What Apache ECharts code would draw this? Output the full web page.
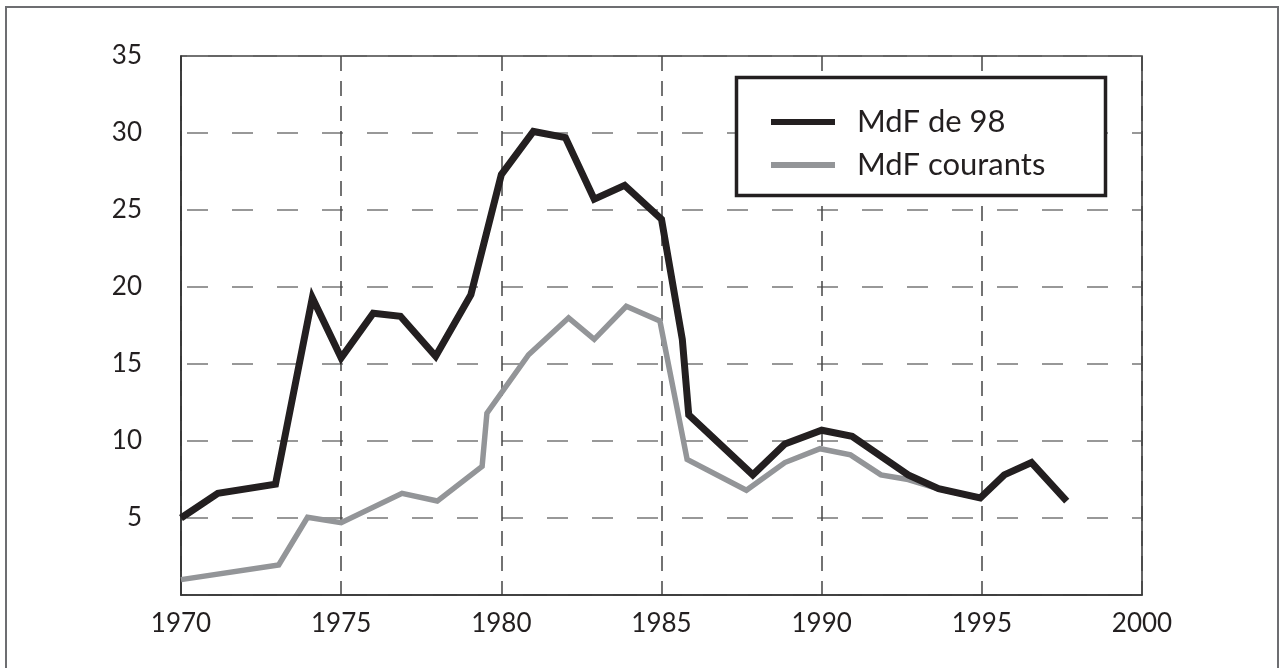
<!DOCTYPE html>
<html>
<head>
<meta charset="utf-8">
<script src="https://cdn.jsdelivr.net/npm/echarts@6/dist/echarts.min.js"></script>
<style>
  html, body { margin: 0; padding: 0; background: #ffffff; }
  #chart { width: 1282px; height: 668px; }
</style>
</head>
<body>
<div id="chart"></div>
<script>
// Series names (legend)
const seriesNames = ['MdF de 98', 'MdF courants'];

// "MdF de 98" (black) — years and values
const yearsReal = [1970, 1971.15, 1972.95, 1974.1, 1975, 1976, 1976.85, 1977.95, 1979.05, 1980, 1981, 1982, 1982.9, 1983.85, 1985, 1985.65, 1985.85, 1987.85, 1988.85, 1990, 1990.95, 1992.7, 1993.65, 1994.95, 1995.7, 1996.55, 1997.65];
const valuesReal = [5.0, 6.6, 7.2, 19.3, 15.4, 18.3, 18.1, 15.5, 19.5, 27.3, 30.1, 29.7, 25.7, 26.6, 24.4, 16.6, 11.7, 7.8, 9.8, 10.7, 10.3, 7.8, 6.9, 6.3, 7.8, 8.6, 6.1];

// "MdF courants" (gray)
const yearsCurrent = [1970, 1973.05, 1973.95, 1975, 1976.9, 1978, 1979.4, 1979.55, 1980.85, 1982.1, 1982.9, 1983.9, 1984.95, 1985.8, 1987.65, 1988.85, 1989.95, 1990.9, 1991.85, 1992.7, 1993.65, 1994.95];
const valuesCurrent = [1.0, 1.95, 5.05, 4.7, 6.6, 6.1, 8.35, 11.8, 15.6, 18.0, 16.6, 18.75, 17.8, 8.8, 6.8, 8.6, 9.5, 9.1, 7.8, 7.5, 6.9, 6.3];

// Axis ranges / ticks
const xMin = 1970, xMax = 2000, xStep = 5;
const yMin = 0, yMax = 35, yStep = 5;

const pairs = (xs, ys) => xs.map((x, i) => [x, ys[i]]);

const chart = echarts.init(document.getElementById('chart'), null, { renderer: 'canvas' });
const FONT = 'Lato, "Open Sans", sans-serif';
const INK = '#231f20';
const GRAYLINE = '#939598';

chart.setOption({
  animation: false,
  backgroundColor: '#ffffff',
  graphic: [
    { type: 'rect', z: 0, silent: true,
      shape: { x: 6, y: 7, width: 1272, height: 720 },
      style: { fill: 'none', stroke: '#6d6e71', lineWidth: 2 } },
    { type: 'rect', z: 50, silent: true,
      shape: { x: 736.5, y: 77.5, width: 369, height: 118 },
      style: { fill: '#ffffff', stroke: INK, lineWidth: 3.5 } }
  ],
  grid: {
    left: 181, right: 140, top: 56, bottom: 73,
    show: true, borderColor: '#333', borderWidth: 1.5, backgroundColor: 'transparent'
  },
  legend: {
    z: 60,
    orient: 'vertical',
    left: 771, top: 106,
    padding: 0,
    itemGap: 11,
    itemWidth: 64, itemHeight: 6,
    icon: 'rect',
    data: seriesNames,
    textStyle: { fontFamily: FONT, fontSize: 31, color: INK, lineHeight: 32, padding: [0, 0, 0, 17] }
  },
  xAxis: {
    type: 'value',
    min: xMin, max: xMax, interval: xStep,
    axisLine: { show: true, lineStyle: { color: '#333', width: 1.5 } },
    axisTick: { show: false },
    axisLabel: { fontFamily: FONT, fontSize: 26, color: INK, margin: 16, formatter: v => String(v) },
    splitLine: { show: true, lineStyle: { color: '#444', width: 1.5, type: [15, 10] } }
  },
  yAxis: {
    type: 'value',
    min: yMin, max: yMax, interval: yStep,
    axisLine: { show: true, lineStyle: { color: '#333', width: 1.5 } },
    axisTick: { show: false },
    axisLabel: {
      fontFamily: FONT, fontSize: 26, color: INK, margin: 39,
      formatter: v => (v === 0 ? '' : String(v))
    },
    splitLine: { show: true, lineStyle: { color: '#777', width: 1.5, type: [21, 24], dashOffset: -6 } }
  },
  series: [
    {
      name: seriesNames[1], type: 'line', z: 3,
      data: pairs(yearsCurrent, valuesCurrent),
      symbol: 'none', smooth: false,
      itemStyle: { color: GRAYLINE },
      lineStyle: { color: GRAYLINE, width: 5.5, join: 'miter', cap: 'butt' }
    },
    {
      name: seriesNames[0], type: 'line', z: 4,
      data: pairs(yearsReal, valuesReal),
      symbol: 'none', smooth: false,
      itemStyle: { color: INK },
      lineStyle: { color: INK, width: 7, join: 'miter', cap: 'butt' }
    }
  ]
});
</script>
</body>
</html>
